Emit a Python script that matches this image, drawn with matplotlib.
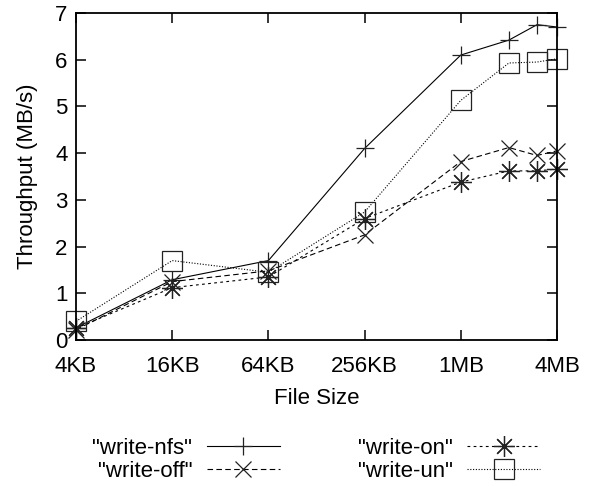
import matplotlib
matplotlib.use("Agg")
import matplotlib.pyplot as plt

# Data (file size in KB)
sizes_kb = [4, 16, 64, 256, 1024, 2048, 3072, 4096]
write_nfs = [0.26, 1.29, 1.70, 4.10, 6.10, 6.42, 6.75, 6.70]
write_off = [0.22, 1.25, 1.48, 2.25, 3.82, 4.12, 3.95, 4.05]
write_on = [0.25, 1.12, 1.35, 2.60, 3.38, 3.62, 3.62, 3.66]
write_un = [0.40, 1.70, 1.45, 2.74, 5.13, 5.93, 5.95, 6.02]

tick_pos = [4, 16, 64, 256, 1024, 4096]
tick_labels = ["4KB", "16KB", "64KB", "256KB", "1MB", "4MB"]
yticks = [0, 1, 2, 3, 4, 5, 6, 7]

plt.rcParams['font.family'] = ['Liberation Sans', 'DejaVu Sans']
plt.rcParams['font.size'] = 16

fig = plt.figure(figsize=(5.89, 4.86), dpi=100)
ax = fig.add_axes([76/589, 1-340/486, (557-76)/589, (340-13)/486])

lw = 0.8
mc = '#222222'
mew = 0.9
ax.plot(sizes_kb, write_nfs, color='black', lw=lw, ls='-', marker='+', ms=13,
        mec=mc, mew=mew, label='"write-nfs"', clip_on=False)
ax.plot(sizes_kb, write_off, color='black', lw=lw, ls=(0, (5, 3)), marker='x', ms=12,
        mec=mc, mew=mew, label='"write-off"', clip_on=False)
ax.plot(sizes_kb, write_on, color='black', lw=lw, ls=(0, (2.5, 3)), marker=(8, 2, 0), ms=15,
        mec=mc, mew=mew, label='"write-on"', clip_on=False)
ax.plot(sizes_kb, write_un, color='black', lw=lw, ls=(0, (1, 1.5)), marker='s', ms=15,
        mec=mc, mfc='none', mew=mew, label='"write-un"', clip_on=False)

ax.set_xscale('log', base=2)
ax.set_xlim(4, 4096)
ax.set_ylim(0, 7)
ax.set_xticks(tick_pos)
ax.set_xticklabels(tick_labels)
ax.minorticks_off()
ax.set_yticks(yticks)
ax.tick_params(direction='in', length=7, width=1.1, top=True, right=True)
ax.tick_params(axis='x', pad=11.5)
ax.tick_params(axis='y', pad=6)
for s in ax.spines.values():
    s.set_linewidth(1.3)

ax.set_xlabel('File Size', labelpad=8)
ax.set_ylabel('Throughput (MB/s)', labelpad=12)

fig.legend(loc='center', bbox_to_anchor=(0.537, 1-460/486), ncol=2, frameon=False,
           markerfirst=False, numpoints=1, handlelength=3.3, handletextpad=0.65,
           columnspacing=3.5, labelspacing=0.1, borderpad=0)

fig.savefig('out.png', dpi=100)
